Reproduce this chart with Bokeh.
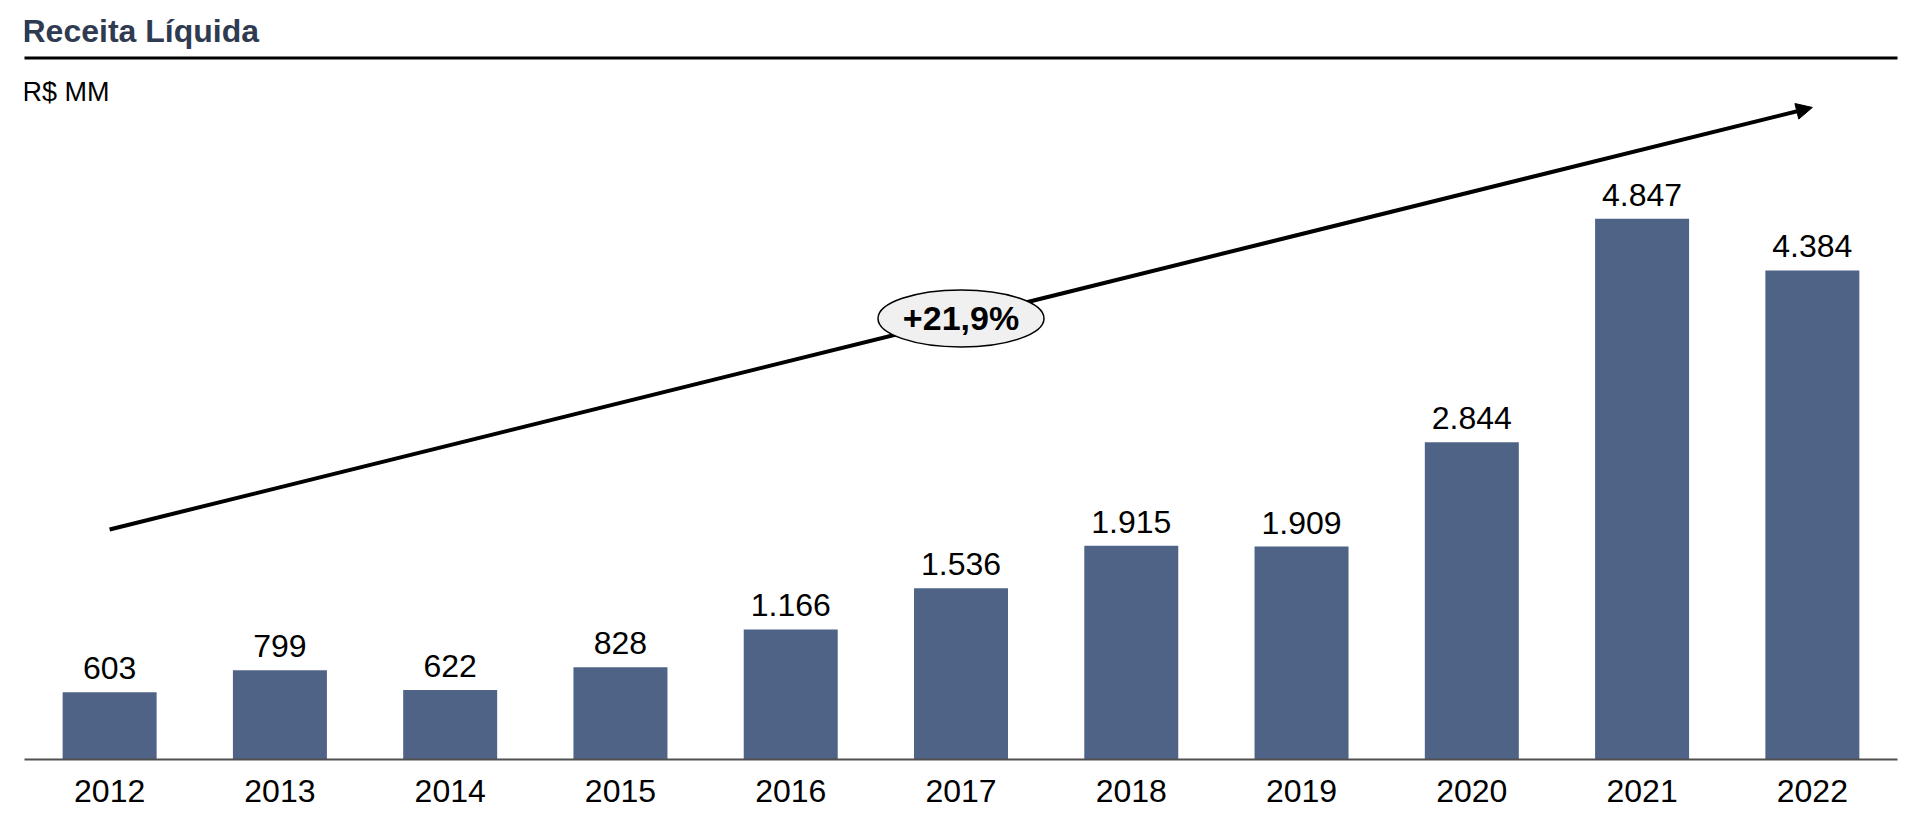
from bokeh.plotting import figure
from bokeh.models import FactorRange, Range1d, Label, BoxAnnotation, Arrow, NormalHead
from bokeh.core.properties import value
from bokeh.embed import file_html
from bokeh.resources import INLINE

# ---- data ----
years = ["2012", "2013", "2014", "2015", "2016", "2017", "2018", "2019", "2020", "2021", "2022"]
revenue = [603, 799, 622, 828, 1166, 1536, 1915, 1909, 2844, 4847, 4384]
value_labels = [f"{v:,}".replace(",", ".") for v in revenue]
title_text = "Receita Líquida"
unit_text = "R$ MM"
cagr_text = "+21,9%"
cagr_start_value = 2062   # trend arrow level at first year
cagr_end_value = 5845     # trend arrow level at last year

FONT = "Liberation Sans"
BAR_COLOR = "#4F6387"
TITLE_COLOR = "#2F3B50"

p = figure(
    x_range=FactorRange(*years),
    y_range=Range1d(0, 6732),
    width=1920, height=832,
    output_backend="svg", toolbar_location=None,
    min_border_left=24, min_border_right=23, min_border_top=8, min_border_bottom=73,
)
p.outline_line_color = None
p.background_fill_color = "white"
p.border_fill_color = "white"
p.xgrid.visible = False
p.ygrid.visible = False
p.yaxis.visible = False

ax = p.xaxis[0]
ax.axis_line_color = "#505050"
ax.axis_line_width = 2
ax.major_tick_line_color = None
ax.minor_tick_line_color = None
ax.major_tick_out = 0
ax.major_tick_in = 0
ax.major_label_standoff = 20
ax.major_label_text_font = FONT
ax.major_label_text_font_size = "32px"
ax.major_label_text_color = "black"

# bars
p.vbar(x=years, top=revenue, width=0.552, fill_color=BAR_COLOR, line_color=None)

# value labels
p.text(x=years, y=revenue, text=value_labels, text_align="center", text_baseline="alphabetic",
       y_offset=-24, text_font=value(FONT), text_font_size="32px", text_color="black")

# trend arrow (synthetic categorical coordinates: factor centre = index + 0.5)
x0 = years.index(years[0]) + 0.5
x1 = years.index(years[-1]) + 0.5
p.add_layout(Arrow(
    x_start=x0, y_start=cagr_start_value, x_end=x1, y_end=cagr_end_value,
    line_width=4, line_color="black", level="underlay",
    end=NormalHead(size=16, fill_color="black", line_color="black", line_width=1),
))

# CAGR bubble at arrow midpoint
mx = (x0 + x1) / 2
my = (cagr_start_value + cagr_end_value) / 2
p.ellipse(x=[mx], y=[my], width=166, height=57, width_units="screen", height_units="screen",
          fill_color="#F0F0F0", line_color="black", line_width=1.5, level="overlay")
p.text(x=[mx], y=[my], text=[cagr_text], text_align="center", text_baseline="middle",
       text_font=value(FONT), text_font_size="34px", text_font_style="bold", text_color="black",
       level="overlay")

# header: title, rule, unit
p.add_layout(Label(x=-2, y=729, x_units="screen", y_units="screen", text=title_text,
                   text_font=FONT, text_font_size="32px", text_font_style="bold",
                   text_color=TITLE_COLOR, text_baseline="alphabetic"))
p.add_layout(BoxAnnotation(left=-18, right=1896, bottom=700, top=703,
                           left_units="screen", right_units="screen",
                           bottom_units="screen", top_units="screen",
                           fill_color="black", fill_alpha=1.0, line_color=None))
p.add_layout(Label(x=-2, y=668, x_units="screen", y_units="screen", text=unit_text,
                   text_font=FONT, text_font_size="27px", text_color="black",
                   text_baseline="alphabetic"))

open("out.html", "w").write(file_html(p, INLINE))
